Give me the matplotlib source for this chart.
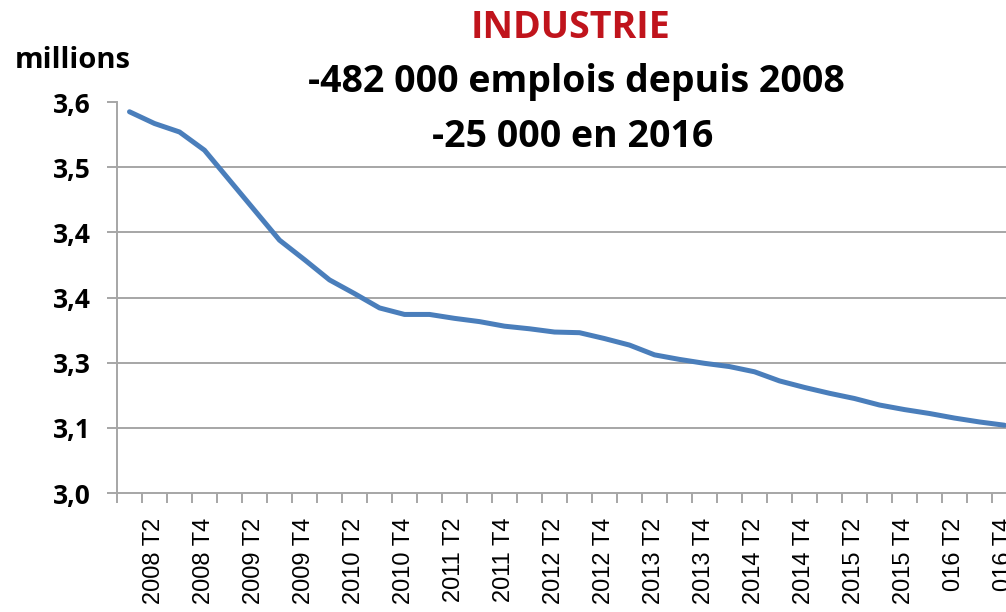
import matplotlib.pyplot as plt
import numpy as np

# emploi industriel, millions, 2008 T1 -> 2016 T4
emplois = [3.585, 3.567, 3.554, 3.526,
           3.480, 3.434, 3.388, 3.358,
           3.327, 3.306, 3.284, 3.274,
           3.274, 3.268, 3.263, 3.256,
           3.252, 3.247, 3.246, 3.237,
           3.227, 3.212, 3.205, 3.199,
           3.194, 3.186, 3.172, 3.162,
           3.153, 3.145, 3.135, 3.128,
           3.122, 3.115, 3.109, 3.104]
x_labels = ['2008 T2', '2008 T4', '2009 T2', '2009 T4', '2010 T2', '2010 T4',
            '2011 T2', '2011 T4', '2012 T2', '2012 T4', '2013 T2', '2013 T4',
            '2014 T2', '2014 T4', '2015 T2', '2015 T4', '016 T2', '016 T4']
y_ticks = [3.0, 3.1, 3.2, 3.3, 3.4, 3.5, 3.6]
y_labels = ['3,0', '3,1', '3,3', '3,4', '3,4', '3,5', '3,6']

W, H = 1006, 612
fig = plt.figure(figsize=(W / 100, H / 100), dpi=100)
ax = fig.add_axes([117 / W, (H - 493) / H, 900 / W, 391 / H])

grey = '#a6a6a6'
x = np.arange(len(emplois))
ax.plot(x, emplois, color='#4a7ebb', lw=3.6, solid_capstyle='round', zorder=3)

ax.set_xlim(-0.5, len(emplois) - 0.5)
ax.set_ylim(3.0, 3.6)
for v in y_ticks[1:-1]:
    ax.axhline(v, color=grey, lw=1.4, zorder=1)

for s in ['top', 'right']:
    ax.spines[s].set_visible(False)
for s in ['left', 'bottom']:
    ax.spines[s].set_color(grey)
    ax.spines[s].set_linewidth(1.4)

ax.set_yticks(y_ticks)
ax.set_yticklabels(y_labels, fontfamily='Open Sans', fontweight='bold', fontsize=19)
ax.tick_params(axis='y', length=7, width=1.4, color=grey, pad=12)

ax.set_xticks(x[1::2])
ax.set_xticklabels(x_labels, rotation=90, fontfamily='Liberation Sans', fontsize=17,
                   va='top', ha='center')
ax.tick_params(axis='x', length=0, pad=18)
ax.set_xticks(np.arange(-0.5, len(emplois) + 0.5, 1), minor=True)
ax.tick_params(axis='x', which='minor', length=7, width=1.4, color=grey)

fig.text(15 / W, 1 - 68 / H, 'millions', fontfamily='Open Sans', fontweight='bold',
         fontsize=21, va='baseline', ha='left')
fig.text(570 / W, 1 - 38 / H, 'INDUSTRIE', fontfamily='Open Sans', fontweight='bold',
         fontsize=27, color='#c0141c', va='baseline', ha='center')
fig.text(576 / W, 1 - 92 / H, '-482 000 emplois depuis 2008', fontfamily='Open Sans',
         fontweight='bold', fontsize=27, va='baseline', ha='center')
fig.text(573 / W, 1 - 147 / H, '-25 000 en 2016', fontfamily='Open Sans',
         fontweight='bold', fontsize=27, va='baseline', ha='center')

fig.savefig('out.png', dpi=100)
